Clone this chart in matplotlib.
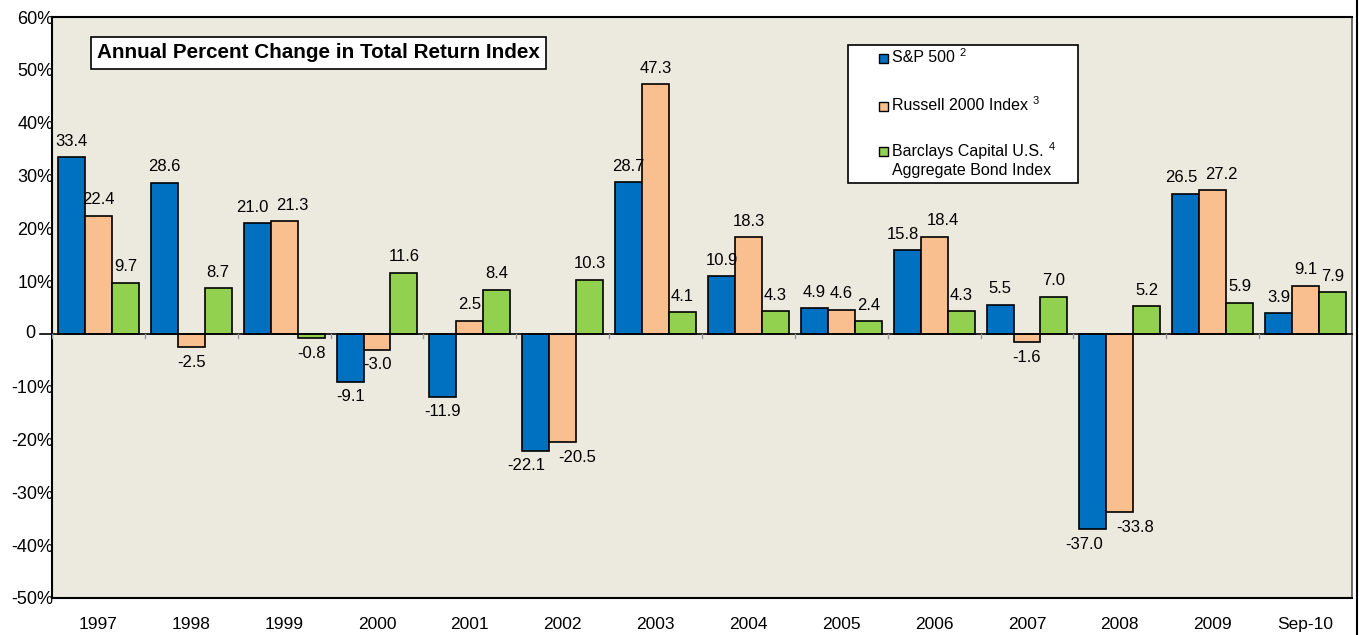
import matplotlib
matplotlib.use("Agg")
import matplotlib.pyplot as plt
from matplotlib.lines import Line2D
from matplotlib.patches import Rectangle
import matplotlib.transforms as mtrans
import numpy as np

plt.rcParams['font.family'] = ['Liberation Sans', 'DejaVu Sans']

years = ["1997", "1998", "1999", "2000", "2001", "2002", "2003",
         "2004", "2005", "2006", "2007", "2008", "2009", "Sep-10"]
sp500 = [33.4, 28.6, 21.0, -9.1, -11.9, -22.1, 28.7, 10.9, 4.9, 15.8, 5.5, -37.0, 26.5, 3.9]
russell = [22.4, -2.5, 21.3, -3.0, 2.5, -20.5, 47.3, 18.3, 4.6, 18.4, -1.6, -33.8, 27.2, 9.1]
bonds = [9.7, 8.7, -0.8, 11.6, 8.4, 10.3, 4.1, 4.3, 2.4, 4.3, 7.0, 5.2, 5.9, 7.9]
yticks = [-50, -40, -30, -20, -10, 0, 10, 20, 30, 40, 50, 60]

names = ["S&P 500", "Russell 2000 Index", "Barclays Capital U.S."]
notes = ["2", "3", "4"]
colors = ["#0070C0", "#FABF8F", "#92D050"]
data = [sp500, russell, bonds]

W, H = 1359, 635
fig = plt.figure(figsize=(W / 100, H / 100), dpi=100)
ax = fig.add_axes([52 / W, 1 - 598 / H, 1300 / W, 581 / H])
ax.set_facecolor("#ECE9DF")

x = np.arange(len(years))
w = 0.29
for k, (vals, col) in enumerate(zip(data, colors)):
    ax.bar(x + (k - 1) * w, vals, width=w, color=col, edgecolor="black", linewidth=1.2, zorder=3)

# value labels, pushed sideways when two long neighbours would collide
for i in range(len(years)):
    vals = [d[i] for d in data]
    labs = [f"{v:.1f}" for v in vals]
    shift = [0.0, 0.0, 0.0]
    for k in range(2):
        a, b = vals[k], vals[k + 1]
        if np.sign(a) == np.sign(b) and abs(a - b) < 4 and min(len(labs[k]), len(labs[k + 1])) >= 4:
            if a > 0:
                shift[k] -= 0.05
                shift[k + 1] += 0.09
            else:
                shift[k] -= 0.1
                shift[k + 1] += 0.16
    for k, v in enumerate(vals):
        xp = x[i] + (k - 1) * w + shift[k]
        if v >= 0:
            ax.text(xp, v + 1.6, labs[k], ha="center", va="bottom", fontsize=12, zorder=5)
        else:
            ax.text(xp, v - 1.4, labs[k], ha="center", va="top", fontsize=12, zorder=5)

ax.plot([-0.63, len(years) - 0.5], [0, 0], color="black", linewidth=1.2, zorder=4, clip_on=False)
for b in np.arange(len(years) + 1) - 0.5:
    ax.plot([b, b], [0, -0.8], color="#999999", linewidth=1, zorder=4)

ax.set_xlim(-0.5, len(years) - 0.5)
ax.set_ylim(-50, 60)
ax.set_yticks(yticks)
ax.set_yticklabels([f"{t}%" if t != 0 else "" for t in yticks], fontsize=13)
ax.text(-0.013, 0, "0", fontsize=13, ha="right", va="center",
        transform=mtrans.blended_transform_factory(ax.transAxes, ax.transData))
ax.set_xticks(x)
ax.set_xticklabels(years, fontsize=12.5)
ax.tick_params(axis="y", length=0, pad=-1)
ax.tick_params(axis="x", length=0, pad=14)

for s in ["left", "bottom", "top"]:
    ax.spines[s].set_color("black")
    ax.spines[s].set_linewidth(1.5)
ax.spines["right"].set_color("#555555")
ax.spines["right"].set_linewidth(1.2)
fig.add_artist(Line2D([1 - 2.5 / W, 1 - 2.5 / W], [0, 1], color="black", linewidth=1.5))

# title box
ax.text((97 - 52) / 1300, (598 - 53) / 581, "Annual Percent Change in Total Return Index",
        transform=ax.transAxes, fontsize=14.9, fontweight="bold", va="center", ha="left",
        bbox=dict(facecolor="white", edgecolor="black", linewidth=1.2, pad=4.5))

# legend box drawn in figure pixels
def px(xp, yp):
    return xp / W, 1 - yp / H

fig.add_artist(Rectangle(px(848, 183), 230 / W, 138 / H, facecolor="white",
                         edgecolor="black", linewidth=1.2, zorder=6))
rows = [58, 106, 151]
for k, yy in enumerate(rows):
    fig.add_artist(Rectangle(px(879, yy + 5), 9 / W, 9 / H, facecolor=colors[k],
                             edgecolor="black", linewidth=1, zorder=7))
    t = fig.text(*px(892, yy), names[k], fontsize=11.5, va="center", ha="left", zorder=7)
    fig.canvas.draw()
    bb = t.get_window_extent()
    fig.text((bb.x1 + 5) / W, (bb.y1 + 2) / H, notes[k], fontsize=8, va="top", ha="left", zorder=7)
fig.text(*px(892, 171), "Aggregate Bond Index", fontsize=11.5, va="center", ha="left", zorder=7)

fig.savefig("out.png", dpi=100, facecolor="white")
